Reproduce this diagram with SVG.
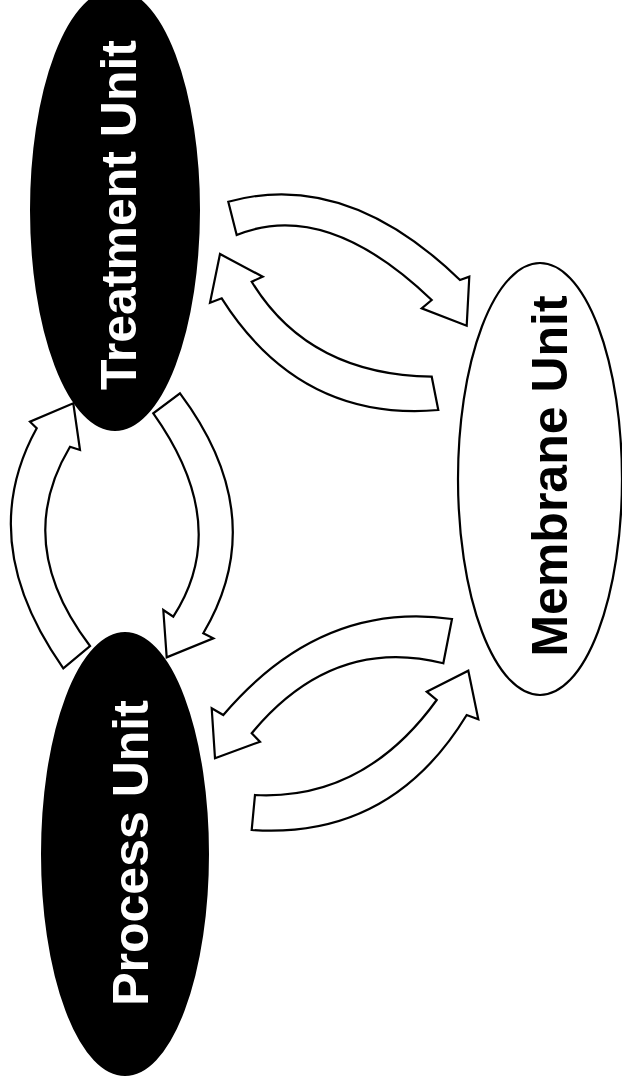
<svg xmlns="http://www.w3.org/2000/svg" width="622" height="1079" viewBox="0 0 622 1079">
<style>
.dark{fill:#000;stroke:#000;stroke-width:2}
.light{fill:#fff;stroke:#000;stroke-width:2.2}
.arrow{fill:#fff;stroke:#000;stroke-width:2.2;stroke-linejoin:miter}
.lbl{font-family:"Liberation Sans",Arial,sans-serif;font-weight:bold;font-size:50px;text-anchor:middle}
</style>
<rect width="622" height="1079" fill="#fff"/>
<g id="treatment">
<ellipse class="dark" cx="115" cy="210" rx="84" ry="220"/>
<text class="lbl" fill="#fff" transform="translate(136,215) rotate(-90)">Treatment Unit</text>
</g>
<g id="process">
<ellipse class="dark" cx="125" cy="854" rx="83" ry="221"/>
<text class="lbl" fill="#fff" transform="translate(148,853) rotate(-90)">Process Unit</text>
</g>
<g id="membrane">
<ellipse class="light" cx="540" cy="479" rx="82" ry="216"/>
<text class="lbl" fill="#000" transform="translate(567,476) rotate(-90)">Membrane Unit</text>
</g>
<g id="connectors">
<path class="arrow" d="M228.3,201.7 Q345.8,169.1 460,280 L469.3,276.7 L466.7,325.7 L421.7,308.3 L431.7,300 Q325.8,198.5 236.7,235 Z"/>
<path class="arrow" d="M431.7,376.7 Q308.3,374.8 251.7,281.7 L262.7,276.7 L220,254 L210,302.7 L221.7,298.3 Q300,421.8 438.3,410 Z"/>
<path class="arrow" d="M63.3,668.3 Q-26,541.7 36.7,428.3 L30,421.7 L73.3,403.3 L80,450 L70,446.7 Q12,543.6 90,646 Z"/>
<path class="arrow" d="M180,393.3 Q272.3,516.7 203.3,633.3 L213.3,638.3 L166.7,657.3 L163.3,610 L173.3,616.7 Q232.7,525 153.3,413.3 Z"/>
<path class="arrow" d="M452,619 Q320.8,600.5 223.3,715 L211.7,708.3 L215,758.3 L260,741.7 L251.7,733.3 Q332.5,635.7 443.3,663.3 Z"/>
<path class="arrow" d="M255,795 Q364.1,800.5 436.7,700 L426.7,691.7 L468.3,670.7 L478.3,719.3 L466.7,715 Q390.8,839.5 251.7,830 Z"/>
</g>
</svg>
